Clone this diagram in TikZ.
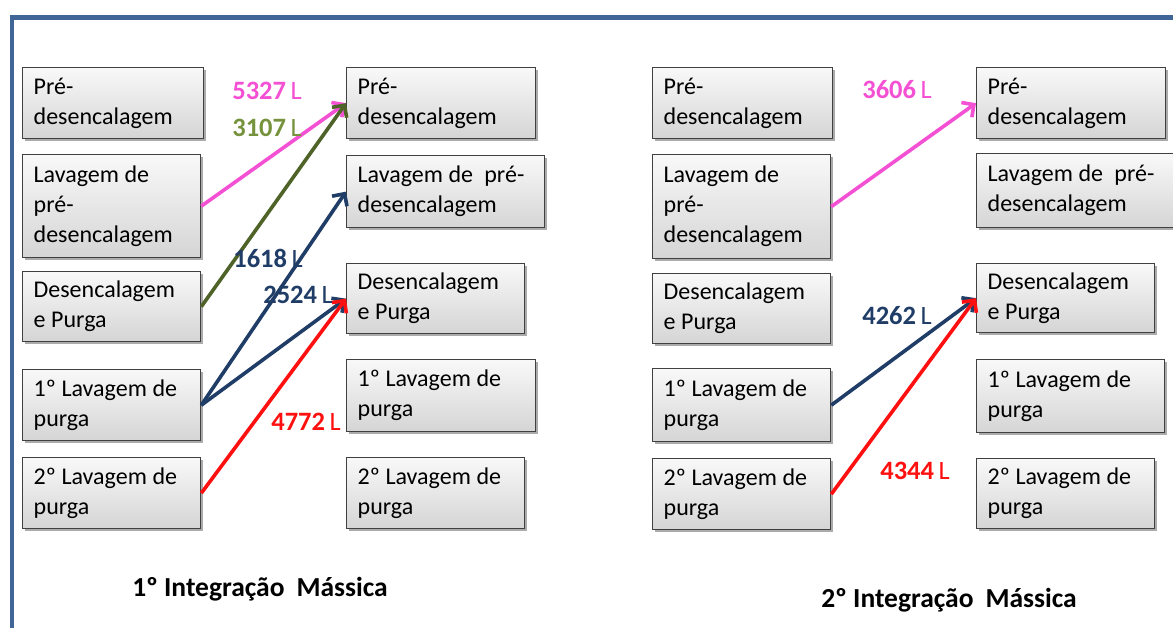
\documentclass[tikz,border=0pt]{standalone}
\usepackage{fontspec}
\setmainfont{Carlito}
\usetikzlibrary{arrows.meta,shadows}
\definecolor{framecol}{HTML}{3F6696}
\definecolor{pinkc}{HTML}{F450D4}
\definecolor{olivel}{HTML}{4F6228}
\definecolor{olivet}{HTML}{76923C}
\definecolor{navyc}{HTML}{1F3D66}
\definecolor{redc}{HTML}{FF1010}
\newcommand\myboxfont{\fontsize{24}{30}\selectfont}
\newcommand\mytightspace{\spaceskip=5.6pt plus 1pt minus 1pt\relax}
\newcommand\myqtyfont{\fontsize{26.5}{30}\selectfont\spaceskip=4.5pt\relax}
\newcommand\mycapfont{\bfseries\fontsize{27.5}{30}\selectfont\spaceskip=6pt\relax}
\begin{document}
\begin{tikzpicture}[x=1pt,y=-1pt,
  box/.style={draw=black!75, line width=1.3pt, top color=gray!5, bottom color=gray!33,
    drop shadow={shadow xshift=2.5pt, shadow yshift=-2.5pt, fill=black!55, opacity=0.6},
    anchor=north west, inner xsep=11pt, inner ysep=0pt, align=left,
    font=\myboxfont, execute at begin node=\mytightspace, text width=#1},
  flow/.style={line width=3.6pt, -{Straight Barb[length=9pt,width=18pt]}},
  qty/.style={font=\myqtyfont, inner sep=0pt},
  caption/.style={font=\mycapfont, inner sep=0pt}]
\useasboundingbox (0,0) rectangle (1173,627);
\fill[white] (0,0) rectangle (1173,627);
% frame
\draw[framecol, line width=4.5pt] (12,660) -- (12,17.5) -- (1200,17.5);
% column 1
\node[box=159pt, minimum height=71pt] (a1) at (22,67) {Pré-\\desencalagem};
\node[box=156pt, minimum height=103pt] (a2) at (22,154) {Lavagem de\\pré-\\desencalagem};
\node[box=156pt, minimum height=70pt] (a3) at (22,271) {Desencalagem\\e Purga};
\node[box=156pt, minimum height=71pt] (a4) at (22,369) {1º Lavagem de\\purga};
\node[box=156pt, minimum height=71pt] (a5) at (22,457) {2º Lavagem de\\purga};
% column 2
\node[box=167pt, minimum height=71pt] (b1) at (346,67) {Pré-\\desencalagem};
\node[box=176pt, minimum height=72pt] (b2) at (346,155) {Lavagem de\ \ pré-\\desencalagem};
\node[box=156pt, minimum height=70pt] (b3) at (346,263) {Desencalagem\\e Purga};
\node[box=167pt, minimum height=72pt] (b4) at (346,359) {1º Lavagem de\\purga};
\node[box=156pt, minimum height=71pt] (b5) at (346,457) {2º Lavagem de\\purga};
% column 3
\node[box=158pt, minimum height=71pt] (c1) at (652,67) {Pré-\\desencalagem};
\node[box=156pt, minimum height=104pt] (c2) at (652,154) {Lavagem de\\pré-\\desencalagem};
\node[box=156pt, minimum height=70pt] (c3) at (652,273) {Desencalagem\\e Purga};
\node[box=156pt, minimum height=73pt] (c4) at (652,368) {1º Lavagem de\\purga};
\node[box=156pt, minimum height=71pt] (c5) at (652,458) {2º Lavagem de\\purga};
% column 4
\node[box=167pt, minimum height=71pt] (d1) at (976,67) {Pré-\\desencalagem};
\node[box=175pt, minimum height=74pt] (d2) at (976,153) {Lavagem de\ \ pré-\\desencalagem};
\node[box=156pt, minimum height=69pt] (d3) at (976,263) {Desencalagem\\e Purga};
\node[box=166pt, minimum height=73pt] (d4) at (976,359) {1º Lavagem de\\purga};
\node[box=156pt, minimum height=70pt] (d5) at (976,458) {2º Lavagem de\\purga};
% flows, first integration
\draw[flow, pinkc] (a2.east) -- (b1.west);
\draw[flow, olivel] (a3.east) -- (b1.west);
\draw[flow, navyc] (a4.east) -- (b2.west);
\draw[flow, navyc] (a4.east) -- (b3.west);
\draw[flow, redc] (a5.east) -- (b3.west);
% flows, second integration
\draw[flow, pinkc] (c2.east) -- (d1.west);
\draw[flow, navyc] (c4.east) -- (d3.west);
\draw[flow, redc] (c5.east) -- (d3.west);
% quantities
\node[qty, text=pinkc] (q1) at (267,91) {\textbf{5327} L};
\node[qty, text=olivet] (q2) at (267,128) {\textbf{3107} L};
\node[qty, text=navyc] (q3) at (268,258) {\textbf{1618} L};
\node[qty, text=navyc] (q4) at (298,295) {\textbf{2524} L};
\node[qty, text=redc] (q5) at (306,422) {\textbf{4772} L};
\node[qty, text=pinkc] (q6) at (897,90) {\textbf{3606} L};
\node[qty, text=navyc] (q7) at (897,316) {\textbf{4262} L};
\node[qty, text=redc] (q8) at (915,471) {\textbf{4344} L};
% captions
\node[caption] (t1) at (260,589) {1º Integração\ \ Mássica};
\node[caption] (t2) at (949,600) {2º Integração\ \ Mássica};
\end{tikzpicture}
\end{document}
